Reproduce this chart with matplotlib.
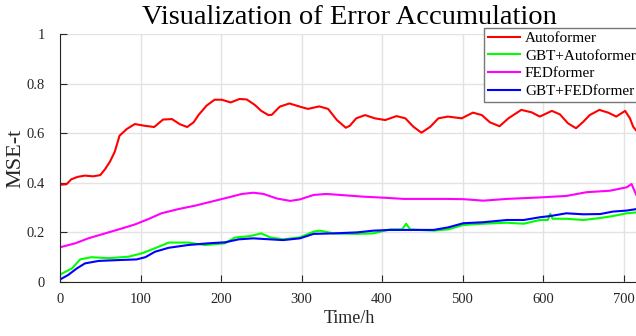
import numpy as np
import matplotlib
matplotlib.use("Agg")
import matplotlib.pyplot as plt

plt.rcParams['font.family'] = ['Liberation Serif', 'DejaVu Serif']

# valores (tempo em horas, MSE-t)
red_t = [0, 8, 14, 22, 31, 41, 50, 56, 62, 68, 74, 83, 93, 105, 117, 128, 139, 149,
         158, 166, 172, 182, 192, 201, 212, 223, 232, 242, 250, 259, 263, 273, 285, 298,
         308, 322, 333, 344, 355, 360, 368, 379, 391, 404, 418, 429, 439, 449, 460, 470,
         482, 499, 513, 524, 534, 546, 557, 573, 586, 596, 611, 621, 631, 641, 650, 658,
         670, 681, 691, 702, 708, 712, 716, 720]
red_v = [0.392, 0.394, 0.414, 0.424, 0.429, 0.426, 0.431, 0.455, 0.485, 0.525, 0.59,
         0.617, 0.637, 0.63, 0.625, 0.655, 0.657, 0.636, 0.625, 0.644, 0.673, 0.711,
         0.735, 0.735, 0.724, 0.738, 0.736, 0.714, 0.69, 0.673, 0.674, 0.707, 0.72,
         0.707, 0.698, 0.708, 0.698, 0.653, 0.622, 0.63, 0.66, 0.673, 0.66, 0.653,
         0.669, 0.66, 0.626, 0.602, 0.626, 0.66, 0.667, 0.66, 0.683, 0.673, 0.644,
         0.628, 0.66, 0.694, 0.684, 0.667, 0.69, 0.676, 0.64, 0.62, 0.646, 0.673,
         0.694, 0.683, 0.667, 0.69, 0.66, 0.626, 0.61, 0.6]

green_t = [0, 15, 25, 39, 60, 85, 102, 118, 135, 159, 180, 205, 217, 236, 250, 261,
           277, 298, 315, 323, 340, 369, 389, 410, 425, 430, 435, 464, 482, 501, 526,
           555, 576, 596, 606, 609, 612, 629, 650, 671, 687, 704, 720]
green_v = [0.03, 0.055, 0.091, 0.1, 0.096, 0.102, 0.116, 0.136, 0.159, 0.159, 0.149,
           0.156, 0.179, 0.185, 0.196, 0.18, 0.172, 0.18, 0.203, 0.207, 0.196, 0.194,
           0.196, 0.212, 0.212, 0.235, 0.212, 0.207, 0.212, 0.23, 0.235, 0.239, 0.235,
           0.25, 0.25, 0.275, 0.255, 0.255, 0.25, 0.258, 0.266, 0.277, 0.282]

mag_t = [0, 19, 35, 56, 77, 93, 110, 126, 147, 168, 188, 209, 226, 240, 253, 269, 286,
         298, 315, 331, 352, 377, 402, 427, 451, 480, 501, 526, 555, 596, 629, 654, 683,
         704, 710, 716, 720]
mag_v = [0.14, 0.156, 0.176, 0.196, 0.216, 0.232, 0.254, 0.277, 0.294, 0.308, 0.324,
         0.341, 0.355, 0.36, 0.355, 0.337, 0.327, 0.333, 0.351, 0.355, 0.35, 0.344,
         0.34, 0.335, 0.335, 0.335, 0.334, 0.328, 0.335, 0.341, 0.347, 0.362, 0.368,
         0.382, 0.395, 0.35, 0.34]

blue_t = [0, 10, 21, 31, 48, 77, 95, 106, 118, 135, 159, 184, 205, 222, 240, 261, 277,
          298, 315, 340, 369, 389, 410, 435, 464, 482, 501, 526, 555, 576, 596, 609, 629,
          650, 671, 687, 704, 720]
blue_v = [0.01, 0.028, 0.055, 0.075, 0.085, 0.089, 0.091, 0.1, 0.122, 0.138, 0.149,
          0.156, 0.16, 0.172, 0.176, 0.172, 0.169, 0.176, 0.194, 0.196, 0.2, 0.207, 0.21,
          0.21, 0.21, 0.22, 0.237, 0.241, 0.25, 0.25, 0.261, 0.266, 0.277, 0.273, 0.274,
          0.284, 0.288, 0.296]

series = [
    (red_t, red_v, '#ff0000', 'Autoformer'),
    (green_t, green_v, '#00ff00', 'GBT+Autoformer'),
    (mag_t, mag_v, '#ff00ff', 'FEDformer'),
    (blue_t, blue_v, '#0000ff', 'GBT+FEDformer'),
]

fig = plt.figure(figsize=(6.36, 3.36), dpi=100)
ax = fig.add_axes([60/636, 54/336, 579.6/636, 248/336])

for t, v, cor, nome in series:
    ax.plot(t, v, color=cor, linewidth=1.5, label=nome)

ax.set_xlim(0, 720)
ax.set_ylim(0, 1)
ax.set_xticks(np.arange(0, 701, 100))
ax.set_yticks([0, 0.2, 0.4, 0.6, 0.8, 1])
ax.set_yticklabels(['0', '0.2', '0.4', '0.6', '0.8', '1'])
ax.grid(True, color='#e3e3e3', linewidth=1)
ax.set_axisbelow(True)
for s in ['top', 'right']:
    ax.spines[s].set_visible(False)
for s in ['left', 'bottom']:
    ax.spines[s].set_color('#262626')
ax.tick_params(direction='in', length=5, width=0.8, colors='#262626', labelsize=10.5)
ax.tick_params(axis='x', pad=8)
ax.tick_params(axis='y', pad=11)

ax.set_title("Visualization of Error Accumulation", fontsize=20.5, pad=7)
ax.set_xlabel("Time/h", fontsize=13, color='#262626', labelpad=2.5)
ax.set_ylabel("MSE-t", fontsize=16, color='#262626', labelpad=1)

leg = ax.legend(loc='upper right', bbox_to_anchor=(1.0, 1.025), fontsize=11,
                frameon=True, fancybox=False, edgecolor='#777777', framealpha=1,
                handlelength=2.1, handletextpad=0.3, labelspacing=0.25,
                borderpad=0.25, borderaxespad=0)
leg.get_frame().set_linewidth(1.0)

plt.savefig("out.png", dpi=100)
